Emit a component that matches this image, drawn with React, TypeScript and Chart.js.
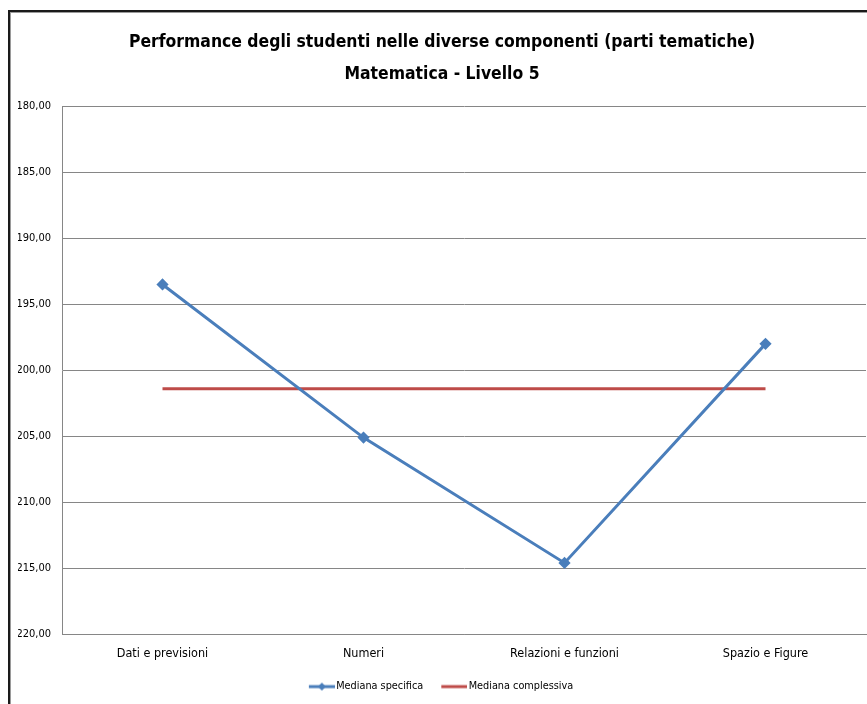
import React, { useEffect, useRef } from "react";
import { Chart, registerables } from "chart.js";

Chart.register(...registerables);

const categories = ["Dati e previsioni", "Numeri", "Relazioni e funzioni", "Spazio e Figure"];
const medianaSpecifica = [193.5, 205.1, 214.6, 198.0];
const medianaComplessiva = [201.4, 201.4, 201.4, 201.4];
const titleLines = [
  "Performance degli studenti nelle diverse componenti (parti tematiche)",
  "Matematica - Livello 5",
];
const seriesNames = ["Mediana specifica", "Mediana complessiva"];
const yMin = 180;
const yMax = 220;
const yStep = 5;

const BLUE = "#4a7ebb";
const RED = "#be4b48";
const FONT = '"DejaVu Sans Condensed", "Open Sans", sans-serif';

function legendImage(color: string, diamond: boolean): HTMLCanvasElement {
  const c = document.createElement("canvas");
  c.width = 28;
  c.height = 10;
  const ctx = c.getContext("2d")!;
  ctx.strokeStyle = color;
  ctx.lineWidth = 3;
  ctx.beginPath();
  ctx.moveTo(2, 5);
  ctx.lineTo(28, 5);
  ctx.stroke();
  if (diamond) {
    ctx.fillStyle = color;
    ctx.beginPath();
    ctx.moveTo(15, 1);
    ctx.lineTo(19, 5);
    ctx.lineTo(15, 9);
    ctx.lineTo(11, 5);
    ctx.closePath();
    ctx.fill();
  }
  return c;
}

export default function App() {
  const ref = useRef<HTMLCanvasElement | null>(null);

  useEffect(() => {
    if (!ref.current) return;
    const imgBlue = legendImage(BLUE, true);
    const imgRed = legendImage(RED, false);
    const chart = new Chart(ref.current, {
      type: "line",
      data: {
        labels: categories,
        datasets: [
          {
            label: seriesNames[0],
            data: medianaSpecifica,
            borderColor: BLUE,
            backgroundColor: BLUE,
            borderWidth: 3,
            pointStyle: "rectRot",
            pointRadius: 4,
            pointBackgroundColor: BLUE,
            pointBorderColor: BLUE,
            tension: 0,
          },
          {
            label: seriesNames[1],
            data: medianaComplessiva,
            borderColor: RED,
            backgroundColor: RED,
            borderWidth: 3,
            pointRadius: 0,
            tension: 0,
          },
        ],
      },
      options: {
        animation: false,
        responsive: false,
        maintainAspectRatio: false,
        layout: { padding: { left: 18, right: 18, top: 0, bottom: 0 } },
        plugins: {
          title: {
            display: true,
            text: titleLines,
            color: "#000",
            font: { family: FONT, size: 17.4, weight: "bold", lineHeight: 1.82 },
            padding: { top: 26.5, bottom: 16.5 },
          },
          legend: {
            position: "bottom",
            labels: {
              usePointStyle: true,
              pointStyleWidth: 20,
              color: "#000",
              font: { family: FONT, size: 10.8 },
              padding: 20,
              generateLabels: (ch: any) =>
                ch.data.datasets.map((ds: any, i: number) => ({
                  text: ds.label,
                  pointStyle: i === 0 ? imgBlue : imgRed,
                  fillStyle: ds.borderColor,
                  strokeStyle: ds.borderColor,
                  lineWidth: 0,
                  hidden: false,
                  datasetIndex: i,
                  fontColor: "#000",
                })),
            },
          },
          tooltip: { enabled: false },
        },
        scales: {
          x: {
            offset: true,
            afterFit: (s: any) => {
              s.height = 27;
            },
            grid: { display: false, drawTicks: false },
            border: { display: true, color: "#868686", width: 1 },
            ticks: {
              color: "#000",
              font: { family: FONT, size: 12.5 },
              padding: 12,
              maxRotation: 0,
              autoSkip: false,
            },
          },
          y: {
            reverse: true,
            min: yMin,
            max: yMax,
            afterFit: (s: any) => {
              s.width = 44;
            },
            grid: { color: "#868686", lineWidth: 1, drawTicks: false },
            border: { display: true, color: "#868686", width: 1 },
            ticks: {
              stepSize: yStep,
              color: "#000",
              font: { family: FONT, size: 11 },
              padding: 11,
              callback: (v: any) => Number(v).toFixed(2).replace(".", ","),
            },
          },
        },
      },
    });
    return () => chart.destroy();
  }, []);

  return (
    <div
      style={{
        position: "fixed",
        left: 0,
        top: 0,
        width: 867,
        height: 704,
        overflow: "hidden",
        background: "#fff",
      }}
    >
      <canvas ref={ref} width={884} height={702} style={{ position: "absolute", left: 0, top: 0 }} />
      <div
        style={{
          position: "absolute",
          left: 8,
          top: 10,
          width: 900,
          height: 800,
          borderLeft: "2px solid #1a1a1a",
          borderTop: "2px solid #1a1a1a",
          boxShadow: "inset 1px 1px 0 #9a9a9a",
          pointerEvents: "none",
        }}
      />
    </div>
  );
}
